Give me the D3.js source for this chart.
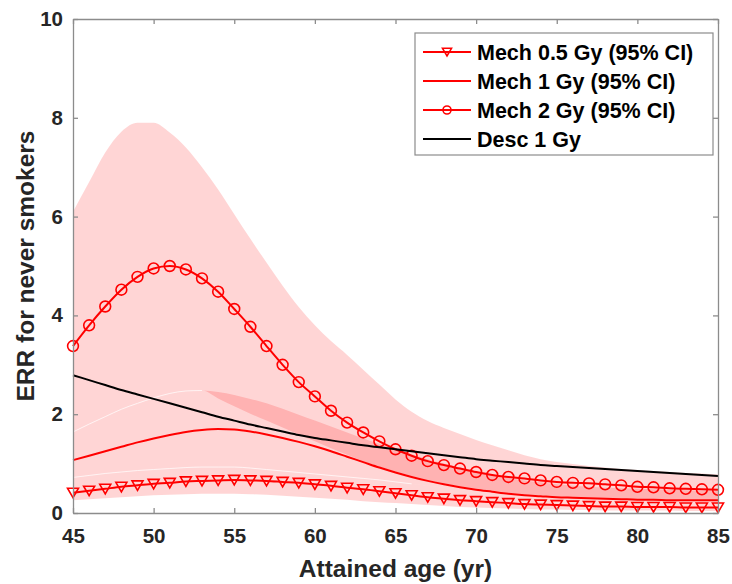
<!DOCTYPE html>
<html>
<head>
<meta charset="utf-8">
<script src="https://cdn.jsdelivr.net/npm/d3@7"></script>
<style>
  body { margin: 0; background: #fff; }
  svg { font-family: "Liberation Sans", Arial, sans-serif; }
</style>
</head>
<body>
<svg id="chart" width="732" height="584"></svg>
<script>
// attained age, one point per year
var ages = d3.range(45, 86);

// central estimates
var mech05 = [0.41,0.45,0.49,0.53,0.56,0.59,0.61,0.64,0.65,0.66,0.67,0.66,0.65,0.63,0.61,0.58,0.55,0.51,0.48,0.44,
              0.40,0.36,0.32,0.29,0.26,0.24,0.22,0.20,0.18,0.17,0.16,0.15,0.14,0.13,0.13,0.12,0.12,0.12,0.11,0.11,0.11];
var mech1  = [1.07,1.16,1.25,1.34,1.43,1.51,1.58,1.64,1.68,1.70,1.69,1.65,1.59,1.52,1.44,1.35,1.25,1.14,1.03,0.92,
              0.82,0.73,0.65,0.58,0.52,0.47,0.43,0.39,0.36,0.34,0.32,0.31,0.30,0.29,0.28,0.27,0.27,0.26,0.26,0.26,0.26];
var mech2  = [3.38,3.80,4.18,4.52,4.78,4.95,5.00,4.93,4.75,4.48,4.13,3.77,3.38,3.00,2.65,2.36,2.07,1.83,1.63,1.45,
              1.29,1.16,1.05,0.97,0.90,0.83,0.77,0.73,0.70,0.66,0.63,0.61,0.60,0.58,0.56,0.53,0.52,0.50,0.49,0.48,0.47];
var desc1  = [2.79,2.69,2.59,2.49,2.40,2.31,2.22,2.13,2.04,1.95,1.87,1.79,1.72,1.65,1.58,1.52,1.47,1.42,1.37,1.33,
              1.29,1.25,1.21,1.17,1.13,1.09,1.06,1.03,1.00,0.97,0.95,0.93,0.91,0.89,0.87,0.85,0.83,0.81,0.79,0.77,0.75];

// 95% CI bounds
var lo05 = [0.26,0.28,0.30,0.32,0.34,0.36,0.37,0.38,0.39,0.39,0.39,0.38,0.37,0.35,0.33,0.31,0.29,0.27,0.24,0.22,
            0.20,0.18,0.16,0.14,0.12,0.11,0.10,0.09,0.08,0.07,0.07,0.06,0.06,0.05,0.05,0.05,0.05,0.05,0.04,0.04,0.04];
var hi05 = [0.72,0.76,0.80,0.83,0.86,0.88,0.90,0.92,0.93,0.93,0.93,0.91,0.88,0.85,0.82,0.79,0.76,0.73,0.70,0.67,
            0.63,0.59,0.55,0.51,0.47,0.43,0.40,0.37,0.34,0.32,0.30,0.28,0.27,0.26,0.25,0.24,0.23,0.22,0.22,0.21,0.21];
var lo1  = hi05;
var hi1  = [1.64,1.80,1.95,2.10,2.22,2.33,2.42,2.47,2.48,2.45,2.39,2.31,2.22,2.11,1.99,1.87,1.75,1.63,1.51,1.40,
            1.29,1.19,1.09,1.00,0.92,0.84,0.77,0.71,0.66,0.62,0.58,0.55,0.53,0.51,0.50,0.49,0.48,0.47,0.46,0.45,0.45];
var lo2  = [1.64,1.80,1.95,2.10,2.22,2.33,2.42,2.47,2.48,2.32,2.16,2.01,1.87,1.73,1.59,1.45,1.31,1.18,1.05,0.94,
            0.84,0.75,0.67,0.60,0.54,0.49,0.45,0.41,0.38,0.36,0.34,0.32,0.31,0.30,0.29,0.28,0.28,0.27,0.27,0.27,0.27];
var hi2  = [6.10,6.70,7.30,7.72,7.90,7.90,7.70,7.40,7.00,6.55,6.05,5.55,5.07,4.60,4.17,3.80,3.48,3.20,2.90,2.60,
            2.30,2.05,1.86,1.72,1.60,1.48,1.37,1.27,1.17,1.09,1.03,0.99,0.95,0.92,0.89,0.87,0.85,0.83,0.81,0.80,0.78];

var xTicks = [45, 50, 55, 60, 65, 70, 75, 80, 85];
var yTicks = [0, 2, 4, 6, 8, 10];
var legendLabels = ["Mech 0.5 Gy (95% CI)", "Mech 1 Gy (95% CI)", "Mech 2 Gy (95% CI)", "Desc 1 Gy"];

var svg = d3.select("#chart");
var pl = 73, pr = 718, pt = 19, pb = 513;

var x = d3.scaleLinear().domain([45, 85]).range([pl, pr]);
var y = d3.scaleLinear().domain([0, 10]).range([pb, pt]);

var axisGrey = "#8c8c8c", textGrey = "#262626";

// CI bands
var bands = [[lo05, hi05], [lo1, hi1], [lo2, hi2]];
var area = d3.area()
    .x(function (d) { return x(d.a); })
    .y0(function (d) { return y(d.lo); })
    .y1(function (d) { return y(d.hi); })
    .curve(d3.curveMonotoneX);

bands.forEach(function (b) {
    var pts = ages.map(function (a, i) { return { a: a, lo: b[0][i], hi: b[1][i] }; });
    svg.append("path")
        .attr("d", area(pts))
        .attr("fill", "#ff0000")
        .attr("fill-opacity", 0.165);
});

var line = d3.line()
    .x(function (d) { return x(d[0]); })
    .y(function (d) { return y(d[1]); })
    .curve(d3.curveMonotoneX);

function pairs(vals) { return ages.map(function (a, i) { return [a, vals[i]]; }); }

// faint seams where two bands touch (as in the exported figure)
var seamA = pairs(hi05).filter(function (d) { return d[0] <= 66; });
var seamB = pairs(hi1).filter(function (d, i) { return hi1[i] == lo2[i]; });
[seamA, seamB].forEach(function (s) {
    svg.append("path")
        .attr("d", line(s))
        .attr("fill", "none")
        .attr("stroke", "#fff")
        .attr("stroke-width", 1)
        .attr("stroke-opacity", 0.7);
});

var series = [
    { vals: mech05, color: "#ff0000", marker: "tri" },
    { vals: mech1, color: "#ff0000", marker: null },
    { vals: mech2, color: "#ff0000", marker: "circ" },
    { vals: desc1, color: "#000000", marker: null }
];

var triPath = "M-5.5,-4.5L5.5,-4.5L0,5Z";

series.forEach(function (s) {
    svg.append("path")
        .attr("d", line(pairs(s.vals)))
        .attr("fill", "none")
        .attr("stroke", s.color)
        .attr("stroke-width", 2);

    if (s.marker == "circ") {
        svg.append("g").selectAll("circle")
            .data(pairs(s.vals))
            .enter().append("circle")
            .attr("cx", function (d) { return x(d[0]); })
            .attr("cy", function (d) { return y(d[1]); })
            .attr("r", 5.4)
            .attr("fill", "none")
            .attr("stroke", s.color)
            .attr("stroke-width", 1.6);
    } else if (s.marker == "tri") {
        svg.append("g").selectAll("path")
            .data(pairs(s.vals))
            .enter().append("path")
            .attr("d", triPath)
            .attr("transform", function (d) { return "translate(" + x(d[0]) + "," + y(d[1]) + ")"; })
            .attr("fill", "none")
            .attr("stroke", s.color)
            .attr("stroke-width", 1.6);
    }
});

// axes, MATLAB style box with inward ticks
var gx = svg.append("g").attr("transform", "translate(0," + pb + ")")
    .call(d3.axisBottom(x).tickValues(xTicks).tickSizeInner(-5).tickSizeOuter(0).tickPadding(15));
var gxTop = svg.append("g").attr("transform", "translate(0," + pt + ")")
    .call(d3.axisTop(x).tickValues(xTicks).tickSizeInner(-5).tickSizeOuter(0).tickFormat(""));
var gy = svg.append("g").attr("transform", "translate(" + pl + ",0)")
    .call(d3.axisLeft(y).tickValues(yTicks).tickSizeInner(-5).tickSizeOuter(0).tickPadding(10));
var gyRight = svg.append("g").attr("transform", "translate(" + pr + ",0)")
    .call(d3.axisRight(y).tickValues(yTicks).tickSizeInner(-5).tickSizeOuter(0).tickFormat(""));

[gx, gxTop, gy, gyRight].forEach(function (g) {
    g.select(".domain").attr("stroke", axisGrey).attr("stroke-width", 1.3);
    g.selectAll(".tick line").attr("stroke", axisGrey).attr("stroke-width", 1.3);
    g.selectAll(".tick text")
        .attr("fill", textGrey)
        .style("font-size", "20.5px")
        .style("font-weight", "bold");
});

svg.append("text")
    .attr("x", (pl + pr) / 2)
    .attr("y", 577)
    .attr("text-anchor", "middle")
    .attr("fill", textGrey)
    .style("font-size", "24.5px")
    .style("font-weight", "bold")
    .text("Attained age (yr)");

svg.append("text")
    .attr("transform", "translate(34," + ((pt + pb) / 2) + ") rotate(-90)")
    .attr("text-anchor", "middle")
    .attr("fill", textGrey)
    .style("font-size", "24.5px")
    .style("font-weight", "bold")
    .text("ERR for never smokers");

// legend
var lg = svg.append("g");
lg.append("rect")
    .attr("x", 415).attr("y", 33)
    .attr("width", 298).attr("height", 122)
    .attr("fill", "#fff")
    .attr("stroke", axisGrey)
    .attr("stroke-width", 1.2);

legendLabels.forEach(function (lab, i) {
    var cy = 52 + i * 29;
    var s = series[i];
    lg.append("line")
        .attr("x1", 423).attr("x2", 471)
        .attr("y1", cy).attr("y2", cy)
        .attr("stroke", s.color)
        .attr("stroke-width", 2);
    if (s.marker == "circ") {
        lg.append("circle").attr("cx", 447).attr("cy", cy).attr("r", 4)
            .attr("fill", "none").attr("stroke", s.color).attr("stroke-width", 1.6);
    } else if (s.marker == "tri") {
        lg.append("path").attr("d", "M-4.5,-3.7L4.5,-3.7L0,4Z")
            .attr("transform", "translate(447," + cy + ")")
            .attr("fill", "none").attr("stroke", s.color).attr("stroke-width", 1.6);
    }
    lg.append("text")
        .attr("x", 477).attr("y", cy)
        .attr("dy", "0.36em")
        .attr("fill", "#000")
        .style("font-size", "21.5px")
        .style("font-weight", "bold")
        .text(lab);
});
</script>
</body>
</html>
